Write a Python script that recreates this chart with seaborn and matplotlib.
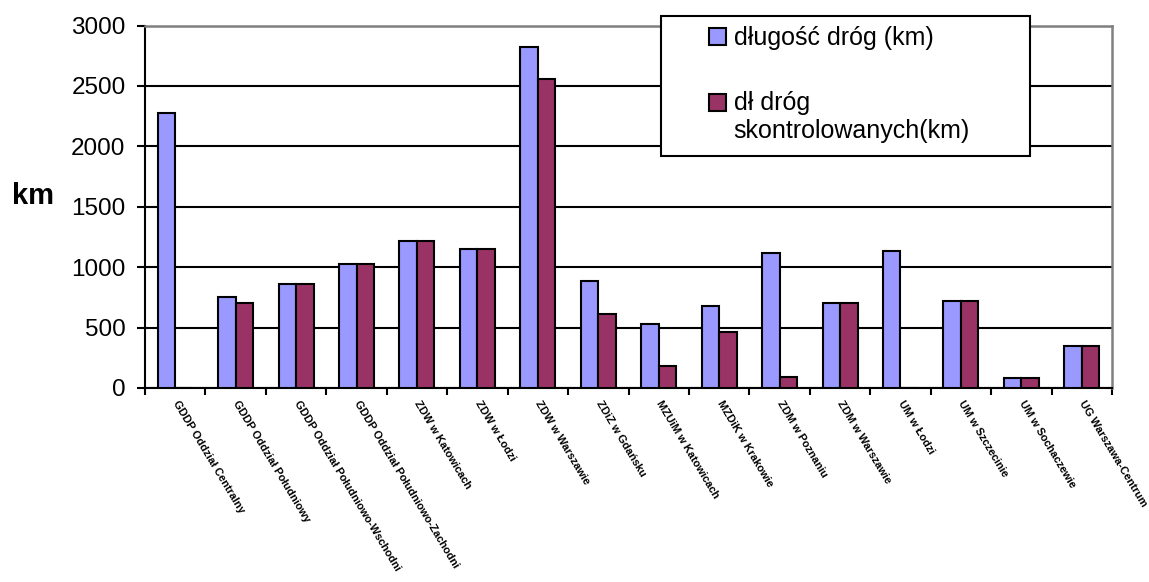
import pandas as pd
import matplotlib
matplotlib.use("Agg")
import matplotlib.pyplot as plt
from matplotlib.patches import Rectangle, Patch
from matplotlib.legend_handler import HandlerPatch
from matplotlib.ticker import MultipleLocator
import seaborn as sns

# data
units = [
    "GDDP Oddział Centralny", "GDDP Oddział Południowy",
    "GDDP Oddział Południowo-Wschodni", "GDDP Oddział Południowo-Zachodni",
    "ZDW w Katowicach", "ZDW w Łodzi", "ZDW w Warszawie", "ZDiZ w Gdańsku",
    "MZUiM w Katowicach", "MZDiK w Krakowie", "ZDM w Poznaniu",
    "ZDM w Warszawie", "UM w Łodzi", "UM w Szczecinie", "UM w Sochaczewie",
    "UG Warszawa-Centrum",
]
road_length = [2280, 750, 860, 1030, 1220, 1150, 2820, 885,
               530, 675, 1115, 705, 1135, 720, 80, 350]
road_checked = [0, 700, 860, 1030, 1220, 1150, 2560, 615,
                185, 465, 90, 705, 0, 720, 80, 350]
series_names = ["długość dróg (km)", "dł dróg\nskontrolowanych(km)"]
colors = ["#9999FF", "#993366"]

df = pd.DataFrame({
    "unit": units * 2,
    "km": road_length + road_checked,
    "series": [series_names[0]] * len(units) + [series_names[1]] * len(units),
})

sns.set_style("white")
plt.rcParams["font.family"] = ["Liberation Sans", "DejaVu Sans"]
plt.rcParams.update({"text.color": "black", "axes.labelcolor": "black",
                     "xtick.color": "black", "ytick.color": "black"})

fig = plt.figure(figsize=(11.49, 5.82), dpi=100)
ax = fig.add_axes([145 / 1149, 1 - 388 / 582, (1112 - 145) / 1149, (388 - 25.5) / 582])

sns.barplot(data=df, x="unit", y="km", hue="series", palette=colors,
            saturation=1, width=0.58, edgecolor="black", linewidth=1.5,
            ax=ax, legend=False, zorder=3)

ax.set_ylim(0, 3000)
ax.set_xlim(-0.5, len(units) - 0.5)
ax.yaxis.set_major_locator(MultipleLocator(500))
ax.grid(axis="y", color="black", linewidth=1.5, zorder=0)
ax.set_axisbelow(True)

for side in ["left", "bottom"]:
    ax.spines[side].set_color("black")
    ax.spines[side].set_linewidth(1.5)
for side in ["top", "right"]:
    ax.spines[side].set_color("#808080")
    ax.spines[side].set_linewidth(1.8)

ax.tick_params(axis="y", direction="out", length=6, width=1.5, color="black",
               left=True, labelsize=17.5, pad=8)
ax.set_xticks(range(len(units)))
ax.set_xticks([i - 0.5 for i in range(len(units) + 1)], minor=True)
ax.tick_params(axis="x", which="major", length=0, pad=10)
ax.tick_params(axis="x", which="minor", direction="out", length=5, width=1.5,
               color="black", bottom=True)
ax.set_xticklabels(units, rotation=-59, ha="left", va="center",
                   rotation_mode="anchor", fontsize=7.9, fontweight="bold")

ax.set_xlabel("")
ax.set_ylabel("km", rotation=0, fontsize=21, fontweight="bold")
ax.yaxis.set_label_coords(-0.116, 0.49)

# legend box sticking out above the plot area
box = Rectangle((661 / 1149, 1 - 155.7 / 582), (1030 - 661) / 1149,
                (155.7 - 16) / 582, transform=fig.transFigure, facecolor="white",
                edgecolor="black", linewidth=1.5, clip_on=False, zorder=4)
ax.add_patch(box)


def raised_square(legend, orig_handle, xdescent, ydescent, width, height, fontsize):
    return Rectangle((-xdescent, -ydescent + 0.62 * fontsize), width, height)


handles = [Patch(facecolor=c, edgecolor="black", linewidth=1.5) for c in colors]
leg = ax.legend(handles, series_names, loc="upper left",
                bbox_to_anchor=(709 / 1149, 1 - 26 / 582),
                bbox_transform=fig.transFigure, frameon=False, fontsize=18,
                handlelength=0.68, handleheight=0.68, handletextpad=0.3,
                labelspacing=1.65, borderpad=0, borderaxespad=0,
                handler_map={handles[1]: HandlerPatch(patch_func=raised_square)})
leg.set_zorder(5)

fig.savefig("out.png", dpi=100)
